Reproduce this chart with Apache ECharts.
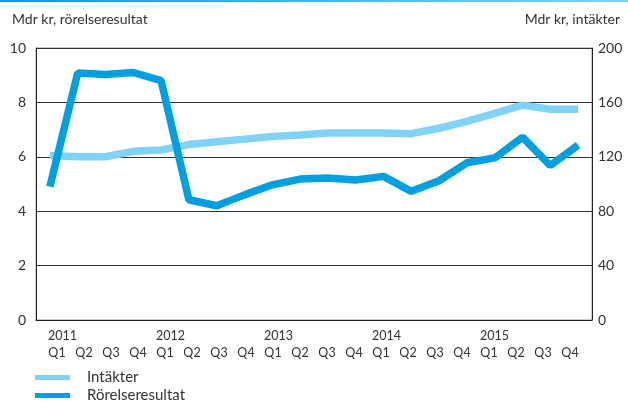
<!DOCTYPE html>
<html>
<head>
<meta charset="utf-8">
<script src="https://cdn.jsdelivr.net/npm/echarts@6/dist/echarts.min.js"></script>
<style>
  html, body { margin: 0; padding: 0; background: #fff; }
  #chart { width: 628px; height: 404px; }
</style>
</head>
<body>
<div id="chart"></div>
<script>
// kvartal och år
const quarters = ['Q1', 'Q2', 'Q3', 'Q4', 'Q1', 'Q2', 'Q3', 'Q4', 'Q1', 'Q2', 'Q3', 'Q4',
    'Q1', 'Q2', 'Q3', 'Q4', 'Q1', 'Q2', 'Q3', 'Q4']
const years = ['2011', '', '', '', '2012', '', '', '', '2013', '', '', '',
    '2014', '', '', '', '2015', '', '', '']

// Mdr kr, intäkter (höger axel)
const intakter = [121, 120, 120, 124, 125, 129, 131, 133, 135, 136, 137.5, 137.5,
    137.5, 137, 141, 146, 152, 158, 155, 155]

// Mdr kr, rörelseresultat (vänster axel)
const rorelseresultat = [4.9, 9.08, 9.03, 9.1, 8.8, 4.42, 4.2, 4.6, 4.97, 5.18,
    5.22, 5.15, 5.28, 4.73, 5.12, 5.78, 5.96, 6.72, 5.68, 6.43]

const leftTicks = [0, 10, 2]
const rightTicks = [0, 200, 40]

const font = 'Lato, "Noto Sans", sans-serif'
const textColor = '#333'
const lightBlue = '#80d3f6'
const darkBlue = '#009fe0'

// etiketter: år vänsterställt över kvartalet
const labels = quarters.map((q, i) => years[i] ? '{y|' + years[i] + '}\n' + q : '\n' + q)

// en legend per rad
const legendItem = (name, top) => ({
    left: 35, top: top,
    padding: 0,
    icon: 'rect',
    itemWidth: 35, itemHeight: 5,
    textStyle: { fontSize: 15, color: textColor, padding: [0, 0, 0, 12] },
    data: [name]
})

const chart = echarts.init(document.getElementById('chart'))

chart.setOption({
    animation: false,
    textStyle: { fontFamily: font, color: textColor },
    grid: [
        {
            left: 36, right: 36, top: 48, bottom: 84,
            show: true, borderColor: '#999', borderWidth: 1
        },
        // bara för x-etiketterna
        { left: 43.5, right: 44.5, top: 48, bottom: 84 }
    ],
    graphic: [
        // blå linje överst
        {
            type: 'rect',
            shape: { x: 0, y: 0, width: 628, height: 2 },
            style: {
                fill: new echarts.graphic.LinearGradient(0, 0, 1, 0, [
                    { offset: 0, color: '#009fe0' },
                    { offset: 1, color: '#7fd3f5' }
                ])
            }
        },
        {
            type: 'text', left: 12, top: 12,
            style: { text: 'Mdr kr, rörelseresultat', font: '14px ' + font, fill: textColor }
        },
        {
            type: 'text', right: 8, top: 12,
            style: { text: 'Mdr kr, intäkter', font: '14px ' + font, fill: textColor }
        }
    ],
    legend: [
        legendItem('Intäkter', 370),
        legendItem('Rörelseresultat', 388)
    ],
    xAxis: [
        {
            type: 'category',
            gridIndex: 0,
            data: quarters,
            boundaryGap: true,
            axisLine: { show: true, lineStyle: { color: '#222', width: 1 } },
            axisTick: { show: false },
            axisLabel: { show: false }
        },
        {
            type: 'category',
            gridIndex: 1,
            data: labels,
            boundaryGap: true,
            axisLine: { show: false },
            axisTick: { show: false },
            axisLabel: {
                interval: 0, fontSize: 12.5, color: textColor,
                lineHeight: 17, margin: 7,
                rich: { y: { fontSize: 12.5, color: textColor, padding: [0, 0, 0, 11] } }
            }
        }
    ],
    yAxis: [
        {
            type: 'value',
            min: leftTicks[0], max: leftTicks[1], interval: leftTicks[2],
            axisLine: { show: true, lineStyle: { color: '#222' } },
            axisTick: { show: false },
            axisLabel: { fontSize: 14, color: textColor, margin: 10 },
            splitLine: { show: true, lineStyle: { color: '#333', width: 1 } }
        },
        {
            type: 'value',
            position: 'right',
            min: rightTicks[0], max: rightTicks[1], interval: rightTicks[2],
            axisLine: { show: true, lineStyle: { color: '#222' } },
            axisTick: { show: false },
            axisLabel: { fontSize: 14, color: textColor, margin: 6 },
            splitLine: { show: false }
        },
        {
            type: 'value',
            gridIndex: 1,
            show: false
        }
    ],
    series: [
        {
            name: 'Intäkter',
            type: 'line',
            yAxisIndex: 1,
            data: intakter,
            symbol: 'none',
            itemStyle: { color: lightBlue },
            lineStyle: { color: lightBlue, width: 7.5 },
            z: 2
        },
        {
            name: 'Rörelseresultat',
            type: 'line',
            yAxisIndex: 0,
            data: rorelseresultat,
            symbol: 'none',
            itemStyle: { color: darkBlue },
            lineStyle: { color: darkBlue, width: 7.5 },
            z: 3
        }
    ]
})
</script>
</body>
</html>
